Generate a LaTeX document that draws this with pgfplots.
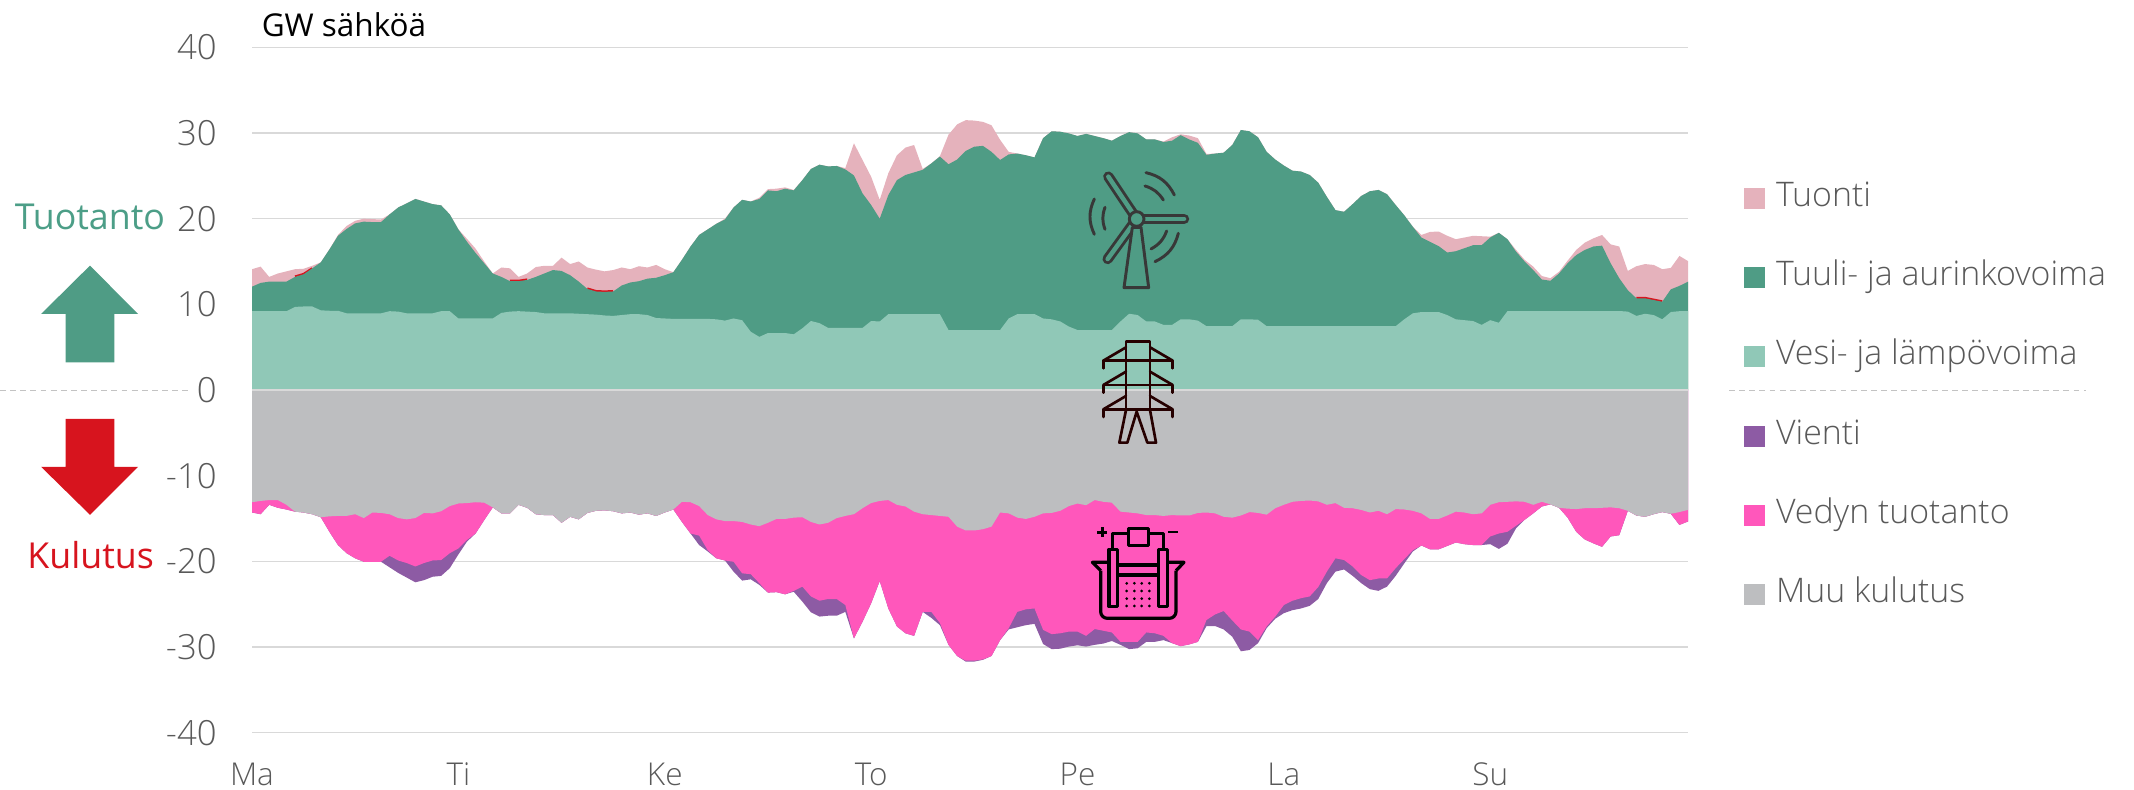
\documentclass[border=0pt]{standalone}
\usepackage{pgfplots}
\usepackage{pgfplotstable}
\usepackage{fontspec}
\pgfplotsset{compat=1.18}
\setmainfont{Open Sans}[UprightFont=* Light]
\newfontfamily\reg{Open Sans}
\newcommand{\fs}[1]{\fontsize{#1}{#1}\selectfont}
\definecolor{cI}{HTML}{E5B2BC}
\definecolor{cG}{HTML}{4F9C85}
\definecolor{cH}{HTML}{90C8B7}
\definecolor{cE}{HTML}{8D5BA4}
\definecolor{cV}{HTML}{FF57BB}
\definecolor{cM}{HTML}{BDBEC0}
\definecolor{gridc}{HTML}{D9D9D9}
\definecolor{txt}{HTML}{595959}
\definecolor{cRed}{HTML}{D7141E}
\definecolor{cTxtG}{HTML}{4C9E87}
\pgfplotstableread{
h I G H E V M
0 14.1 12.06 9.2 -14.3 -14.3 -13.1
1 14.4 12.5 9.2 -14.5 -14.5 -12.95
2 13.2 12.65 9.2 -13.4 -13.4 -12.85
3 13.6 12.65 9.2 -13.75 -13.75 -12.85
4 13.85 12.65 9.2 -13.95 -13.95 -13.4
5 14.1 13.2 9.7 -14.2 -14.2 -14.2
6 14.15 13.5 9.75 -14.3 -14.3 -14.3
7 14.5 14.2 9.75 -14.5 -14.5 -14.5
8 14.9 14.9 9.3 -14.85 -14.85 -14.85
9 16.4 16.4 9.25 -16.55 -16.55 -14.75
10 18.1 18.0 9.25 -18.1 -18.1 -14.7
11 19.15 18.8 8.95 -19.05 -19.05 -14.7
12 19.75 19.45 8.95 -19.65 -19.65 -14.5
13 20.0 19.65 8.95 -20.05 -20.05 -14.95
14 19.95 19.6 8.95 -20.05 -20.05 -14.3
15 19.9 19.6 8.95 -20.05 -20.05 -14.35
16 20.5 20.5 9.2 -20.7 -19.35 -14.5
17 21.3 21.3 9.15 -21.35 -19.9 -14.95
18 21.8 21.8 8.95 -21.9 -20.2 -15.1
19 22.3 22.3 8.95 -22.45 -20.6 -14.95
20 22.0 22.0 8.95 -22.2 -20.2 -14.35
21 21.7 21.7 8.95 -21.8 -19.9 -14.4
22 21.55 21.55 9.2 -21.7 -19.85 -14.15
23 20.5 20.5 9.2 -20.8 -19.05 -13.55
24 18.75 18.75 8.35 -19.2 -18.5 -13.25
25 17.65 17.3 8.35 -17.7 -17.5 -13.2
26 16.5 16.0 8.35 -16.75 -16.75 -13.1
27 15.0 14.8 8.35 -15.2 -15.2 -13.15
28 13.6 13.6 8.35 -13.7 -13.7 -13.7
29 14.3 13.2 9.0 -14.4 -14.4 -14.4
30 14.2 12.7 9.15 -14.4 -14.4 -14.4
31 13.2 12.7 9.2 -13.4 -13.4 -13.4
32 13.6 12.85 9.15 -13.75 -13.75 -13.75
33 14.35 13.2 9.1 -14.5 -14.5 -14.5
34 14.5 13.6 8.95 -14.6 -14.6 -14.6
35 14.5 14.0 8.95 -14.6 -14.6 -14.6
36 15.45 13.9 8.95 -15.5 -15.5 -15.5
37 14.7 13.4 8.95 -14.8 -14.8 -14.8
38 15.0 12.65 8.9 -15.1 -15.1 -15.1
39 14.3 11.8 8.85 -14.35 -14.35 -14.35
40 14.05 11.5 8.8 -14.1 -14.1 -14.1
41 13.85 11.45 8.7 -14.05 -14.05 -14.05
42 14.0 11.5 8.65 -14.15 -14.15 -14.15
43 14.3 12.2 8.75 -14.4 -14.4 -14.4
44 14.1 12.55 8.85 -14.3 -14.3 -14.3
45 14.45 12.7 8.85 -14.55 -14.55 -14.55
46 14.3 13.0 8.75 -14.4 -14.4 -14.4
47 14.6 13.1 8.4 -14.7 -14.7 -14.7
48 14.1 13.4 8.35 -14.3 -14.3 -14.3
49 13.75 13.75 8.3 -13.95 -13.95 -13.95
50 15.2 15.2 8.3 -15.4 -15.4 -13.05
51 16.75 16.75 8.3 -16.75 -16.75 -13.1
52 18.1 18.1 8.3 -18.1 -17.0 -13.55
53 18.75 18.75 8.3 -18.85 -18.7 -14.6
54 19.4 19.4 8.25 -19.65 -19.65 -15.1
55 20.0 19.9 8.1 -19.9 -19.9 -15.3
56 21.3 21.3 8.35 -21.2 -20.05 -15.3
57 22.2 22.2 8.15 -22.25 -21.4 -15.4
58 22.0 22.0 6.8 -22.1 -21.5 -15.7
59 22.45 22.3 6.2 -22.75 -22.55 -15.9
60 23.45 23.3 6.65 -23.65 -23.65 -15.5
61 23.5 23.2 6.65 -23.6 -23.6 -15.05
62 23.65 23.5 6.65 -23.85 -23.85 -15.05
63 23.35 23.3 6.5 -23.55 -23.45 -14.9
64 24.5 24.5 7.2 -24.7 -22.95 -14.85
65 25.8 25.8 8.05 -25.95 -24.1 -15.4
66 26.3 26.3 7.8 -26.45 -24.6 -15.7
67 26.1 26.1 7.25 -26.35 -24.4 -15.5
68 26.15 26.15 7.25 -26.35 -24.4 -14.95
69 25.9 25.75 7.25 -25.9 -25.1 -14.7
70 28.8 25.05 7.25 -29.0 -29.0 -14.5
71 26.85 22.95 7.25 -27.05 -27.05 -13.8
72 24.9 21.6 8.05 -24.9 -24.9 -13.2
73 22.2 20.0 8.0 -22.3 -22.3 -12.95
74 25.3 22.75 8.85 -25.5 -25.5 -12.85
75 27.4 24.5 8.85 -27.6 -27.6 -13.4
76 28.3 25.1 8.85 -28.4 -28.4 -13.6
77 28.6 25.4 8.85 -28.7 -28.7 -14.2
78 25.8 25.7 8.85 -25.9 -25.9 -14.5
79 26.45 26.45 8.85 -26.6 -25.9 -14.6
80 27.3 27.25 8.85 -27.45 -27.2 -14.7
81 29.8 26.35 7.0 -29.75 -29.75 -14.8
82 31.0 26.9 7.0 -31.05 -31.05 -15.95
83 31.5 27.9 7.0 -31.7 -31.6 -16.4
84 31.45 28.4 7.0 -31.7 -31.6 -16.4
85 31.3 28.5 7.0 -31.5 -31.45 -16.25
86 30.9 27.8 7.0 -31.05 -31.05 -15.95
87 29.2 26.85 7.0 -29.2 -29.2 -14.3
88 27.8 27.5 8.35 -27.95 -27.8 -14.4
89 27.6 27.6 8.85 -27.7 -25.9 -14.9
90 27.4 27.4 8.87 -27.45 -25.6 -15.05
91 27.15 27.15 8.87 -27.3 -25.5 -14.8
92 29.4 29.4 8.35 -29.65 -28.0 -14.4
93 30.2 30.2 8.25 -30.25 -28.5 -14.35
94 30.15 30.15 8.0 -30.2 -28.4 -14.1
95 29.95 29.95 7.4 -29.95 -28.2 -13.55
96 29.65 29.65 7.0 -29.8 -28.2 -13.25
97 29.9 29.9 7.0 -29.95 -28.7 -13.45
98 29.65 29.65 7.0 -29.75 -27.9 -12.85
99 29.4 29.4 7.0 -29.6 -28.1 -13.05
100 29.1 29.1 7.0 -29.3 -28.3 -13.15
101 29.65 29.65 8.0 -29.75 -29.4 -14.2
102 30.1 30.1 8.9 -30.25 -29.4 -14.3
103 29.95 29.95 8.75 -30.15 -29.4 -14.4
104 29.25 29.25 8.0 -29.4 -28.3 -14.6
105 29.25 29.25 8.0 -29.4 -28.4 -14.6
106 29.0 28.95 7.6 -29.2 -28.7 -14.7
107 29.5 29.1 7.6 -29.55 -29.55 -14.6
108 29.85 29.75 8.25 -29.9 -29.9 -14.65
109 29.7 29.25 8.25 -29.7 -29.7 -14.65
110 29.4 28.85 8.1 -29.4 -29.4 -14.35
111 27.55 27.45 7.45 -27.55 -26.85 -14.3
112 27.6 27.6 7.45 -27.55 -26.2 -14.4
113 27.7 27.7 7.45 -27.95 -25.8 -14.8
114 28.6 28.6 7.45 -28.8 -26.9 -14.9
115 30.35 30.35 8.25 -30.5 -27.95 -14.65
116 30.2 30.2 8.25 -30.35 -28.2 -14.25
117 29.5 29.5 8.2 -29.55 -29.2 -14.35
118 27.8 27.8 7.45 -27.8 -27.6 -14.55
119 26.9 26.9 7.45 -26.7 -26.45 -13.8
120 26.2 26.2 7.45 -26.05 -25.1 -13.4
121 25.6 25.6 7.45 -25.7 -24.6 -13.05
122 25.5 25.5 7.45 -25.5 -24.3 -12.95
123 25.1 25.1 7.45 -25.2 -24.1 -12.9
124 24.2 24.2 7.45 -24.4 -23.0 -13.0
125 22.55 22.55 7.45 -22.55 -21.2 -13.4
126 21.0 21.0 7.45 -21.2 -19.65 -13.2
127 20.8 20.8 7.45 -20.95 -19.85 -13.75
128 21.7 21.7 7.45 -21.7 -20.6 -13.8
129 22.65 22.65 7.45 -22.55 -21.6 -14.0
130 23.2 23.2 7.45 -23.25 -22.2 -14.3
131 23.35 23.35 7.45 -23.45 -22.0 -14.1
132 22.85 22.85 7.45 -22.95 -22.0 -14.5
133 21.6 21.6 7.45 -21.7 -20.8 -13.9
134 20.4 20.4 8.25 -20.25 -19.75 -13.95
135 19.05 19.05 8.95 -18.85 -18.7 -14.1
136 18.1 17.8 9.1 -18.15 -18.15 -14.4
137 18.45 17.3 9.1 -18.6 -18.6 -15.05
138 18.5 16.8 9.1 -18.6 -18.6 -15.05
139 18.0 16.05 8.75 -18.2 -18.2 -14.65
140 17.6 16.2 8.25 -17.8 -17.8 -14.2
141 17.8 16.55 8.15 -18.0 -18.0 -14.3
142 18.0 16.9 8.05 -18.1 -18.1 -14.5
143 17.95 16.9 7.6 -18.1 -18.1 -14.4
144 17.9 17.8 8.15 -18.0 -17.1 -13.4
145 18.35 18.35 7.85 -18.55 -16.75 -13.1
146 17.6 17.6 9.2 -17.95 -16.55 -13.05
147 16.35 16.15 9.22 -16.15 -15.85 -13.0
148 15.2 15.0 9.22 -15.15 -15.15 -13.05
149 14.4 14.0 9.22 -14.4 -14.4 -13.4
150 13.3 12.9 9.22 -13.6 -13.6 -13.05
151 13.05 12.75 9.22 -13.35 -13.35 -13.35
152 13.8 13.6 9.22 -13.75 -13.75 -13.75
153 15.1 14.8 9.22 -14.9 -14.9 -13.85
154 16.35 15.75 9.22 -16.55 -16.55 -13.9
155 17.2 16.35 9.22 -17.45 -17.45 -13.8
156 17.7 16.75 9.22 -17.9 -17.9 -13.8
157 18.1 16.85 9.22 -18.3 -18.3 -13.75
158 17.0 14.8 9.22 -17.1 -17.1 -13.7
159 16.75 13.05 9.22 -16.95 -16.95 -13.8
160 13.9 11.65 9.15 -14.1 -14.1 -14.1
161 14.45 10.7 8.65 -14.65 -14.65 -14.65
162 14.7 10.7 8.9 -14.8 -14.8 -14.8
163 14.6 10.5 8.75 -14.5 -14.5 -14.5
164 14.1 10.3 8.25 -14.25 -14.25 -14.25
165 14.25 11.75 9.1 -14.45 -14.45 -14.45
166 15.65 12.15 9.2 -15.75 -15.75 -14.25
167 15.05 12.65 9.2 -15.35 -15.35 -14.0
}\datatable
\begin{document}
\begin{tikzpicture}[x=1pt,y=1pt]
\useasboundingbox (0,0) rectangle (800.25,296.25);
\begin{axis}[
  at={(94.5pt,21.5pt)}, anchor=south west,
  scale only axis, width=538.5pt, height=257pt,
  xmin=0, xmax=167, ymin=-40, ymax=40,
  axis x line=bottom, axis y line=left,
  axis line style={draw=none},
  clip=false,
  ytick={-40,-30,-20,-10,0,10,20,30,40},
  yticklabels={-40,-30,-20,-10,0,10,20,30,40},
  xtick={0,24,48,72,96,120,144},
  xticklabels={Ma,Ti,Ke,To,Pe,La,Su},
  ymajorgrids, xmajorgrids=false,
  major grid style={gridc, line width=0.55pt},
  tick style={draw=none},
  major tick length=0pt,
  yticklabel style={font=\fs{13pt}, text=txt, anchor=east, xshift=-9.7pt},
  xticklabel style={font=\fs{11.8pt}, text=txt, anchor=base, yshift=-20pt},
  legend image code/.code={\fill[#1,draw=none] (0pt,-3.95pt) rectangle (7.9pt,3.95pt);},
  legend cell align=left,
  legend style={at={(1.0385,0.8)}, anchor=north west, draw=none, fill=none, inner sep=0pt,
    row sep=19.75pt, font=\fs{12.7pt}, text=txt,
    nodes={text height=8pt,text depth=2pt,inner ysep=0pt,inner xsep=4.2pt}},
]
\addplot[fill=cI,draw=none] table[x=h,y=I]{\datatable} \closedcycle;
\addlegendentry{Tuonti}
\addplot[forget plot,color=cRed,line width=0.8pt] coordinates {(5,13.25)(6,13.55)(7,14.2)};
\addplot[forget plot,color=cRed,line width=0.8pt] coordinates {(30,12.75)(31,12.75)(32,12.9)};
\addplot[forget plot,color=cRed,line width=0.8pt] coordinates {(39,11.85)(40,11.55)(41,11.5)(42,11.55)};
\addplot[forget plot,color=cRed,line width=0.8pt] coordinates {(161,10.75)(162,10.75)(163,10.55)(164,10.35)};
\addplot[fill=cG,draw=none] table[x=h,y=G]{\datatable} \closedcycle;
\addlegendentry{Tuuli- ja aurinkovoima}
\addplot[fill=cH,draw=none] table[x=h,y=H]{\datatable} \closedcycle;
\addlegendentry{Vesi- ja lämpövoima}
\addplot[fill=cE,draw=none] table[x=h,y=E]{\datatable} \closedcycle;
\addlegendentry{Vienti}
\addplot[fill=cV,draw=none] table[x=h,y=V]{\datatable} \closedcycle;
\addlegendentry{Vedyn tuotanto}
\addplot[fill=cM,draw=none] table[x=h,y=M]{\datatable} \closedcycle;
\addlegendentry{Muu kulutus}
\addplot[forget plot,gridc,line width=0.55pt] coordinates {(0,0) (167,0)};
\end{axis}
% dashed zero extensions
\draw[gridc!90!black,line width=0.3pt,dash pattern=on 2.2pt off 1.6pt] (0,150) -- (71,150);
\draw[gridc!90!black,line width=0.3pt,dash pattern=on 2.2pt off 1.6pt] (648.4,150) -- (782.3,150);
% arrows
\begin{scope}[yshift=0.4pt]
\fill[cG] (33.75,196.25) -- (15.4,178.1) -- (24.6,178.1) -- (24.6,160) -- (42.9,160) -- (42.9,178.1) -- (51.75,178.1) -- cycle;
\end{scope}
\begin{scope}[yshift=0.8pt]
\fill[cRed] (24.6,138.4) -- (42.9,138.4) -- (42.9,120.4) -- (51.75,120.4) -- (33.75,102.4) -- (15.4,120.4) -- (24.6,120.4) -- cycle;
\end{scope}
\node[font=\reg\fs{13.4pt},text=cTxtG,anchor=center] at (33.7,214.9) {Tuotanto};
\node[font=\reg\fs{13.4pt},text=cRed,anchor=center] at (34,88) {Kulutus};
\node[font=\reg\fs{11.8pt},text=black,anchor=center] at (129,287) {GW sähköä};
% icons
\begin{scope}[shift={(390,240)},x=0.125pt,y=-0.125pt]
 \begin{scope}[line cap=round]
  \foreach \tx/\ty in {205/80,432/207,203/327} {
    \draw[black!78,line width=3.9pt] (290,207) -- (\tx,\ty);
  }
  \foreach \tx/\ty in {205/80,432/207,203/327} {
    \draw[cG,line width=1.7pt] (290,207) -- (\tx,\ty);
  }
 \end{scope}
 \begin{scope}[draw=black!78,line width=1.1pt,line cap=round,line join=round]
  \filldraw[fill=cG] (290,207) circle (22);
  \filldraw[fill=cG] (277,232) -- (252,413) -- (326,413) -- (303,232) -- cycle;
  \draw (318,68) to[bend left=25] (403,135);
  \draw (315,108) to[bend left=20] (370,150);
  \draw (163,147) to[bend right=25] (163,253);
  \draw (195,172) to[bend right=20] (195,238);
  \draw (415,250) to[bend left=25] (345,335);
  \draw (380,243) to[bend left=20] (333,297);
 \end{scope}
 \begin{scope}[draw=black!75!red!60!black,line width=1pt,line join=round,line cap=round]
  \draw (258,780) -- (258,575) -- (330,575) -- (330,780);
  \draw (258,780) -- (238,878) -- (262,878) -- (290,785) -- (322,878) -- (348,878) -- (330,780);
  \foreach \y in {632,705,778} {
    \draw (190,\y+23) -- (190,\y) -- (398,\y) -- (398,\y+23);
    \draw (190,\y) -- (258,\y-40);
    \draw (398,\y) -- (330,\y-40);
  }
 \end{scope}
 \begin{scope}[draw=black,line width=1.2pt,line join=round]
  \fill[black] (172,1143) rectangle (202,1151);
  \fill[black] (183,1132) rectangle (191,1162);
  \fill[black] (385,1142) rectangle (415,1150);
  \draw (265,1135) rectangle (325,1187);
  \draw (207,1198) rectangle (232,1370);
  \draw (356,1198) rectangle (382,1370);
  \draw (218,1198) -- (218,1150) -- (265,1150);
  \draw (370,1198) -- (370,1150) -- (325,1150);
  \draw (207,1237) -- (157,1237) -- (182,1262);
  \draw (382,1237) -- (432,1237) -- (408,1262);
  \draw[rounded corners=2.5pt] (182,1262) -- (182,1405) -- (408,1405) -- (408,1262);
  \draw (232,1245) -- (356,1245);
  \draw (232,1275) -- (356,1275);
  \foreach \x in {260,283,305,328} \foreach \y in {1300,1323,1346,1368} \fill[black] (\x,\y) circle (4.5);
 \end{scope}
\end{scope}
\end{tikzpicture}
\end{document}
